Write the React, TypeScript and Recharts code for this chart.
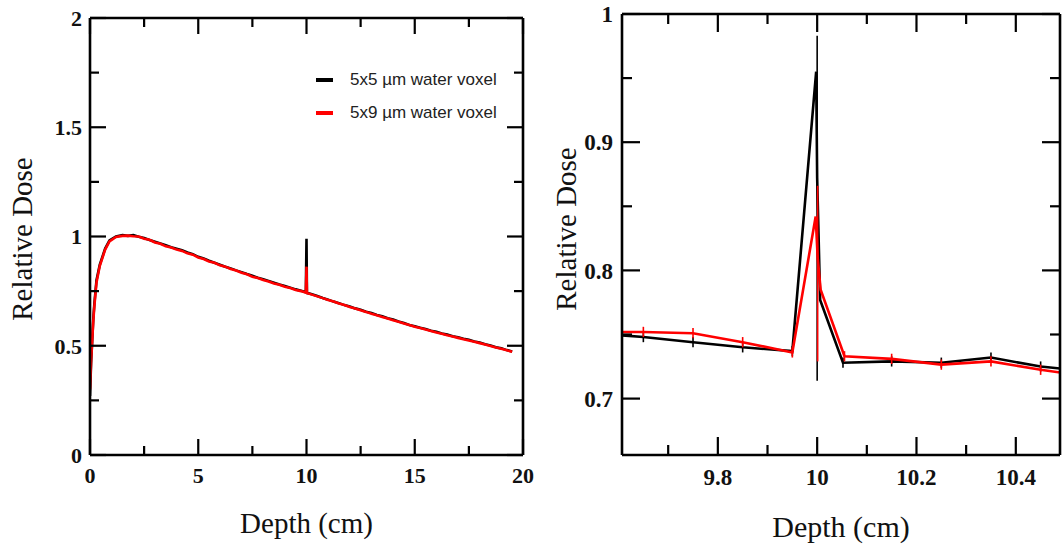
import {
  ErrorBar,
  Label,
  Legend,
  Line,
  LineChart,
  XAxis,
  YAxis,
} from "recharts";

// ---- left panel: full depth-dose curve ----
const depthL = [
  0, 0.05, 0.1, 0.15, 0.2, 0.3, 0.45, 0.7, 0.9, 1.2, 1.5, 1.75, 2.0, 2.25, 2.5, 2.75, 3.0, 3.25, 3.5,
  3.75, 4.0, 4.25, 4.5, 4.75, 5.0, 5.25, 5.5, 5.75, 6.0, 6.25, 6.5, 6.75, 7.0, 7.25, 7.5, 7.75, 8.0,
  8.25, 8.5, 8.75, 9.0, 9.25, 9.5, 9.75, 9.97, 10.0, 10.02, 10.25, 10.5, 10.75, 11.0, 11.25, 11.5,
  11.75, 12.0, 12.25, 12.5, 12.75, 13.0, 13.25, 13.5, 13.75, 14.0, 14.25, 14.5, 14.75, 15.0, 15.25,
  15.5, 15.75, 16.0, 16.25, 16.5, 16.75, 17.0, 17.25, 17.5, 17.75, 18.0, 18.25, 18.5, 18.75, 19.0,
  19.25, 19.5,
];
const dose5x5 = [
  0.27, 0.42, 0.52, 0.62, 0.69, 0.8, 0.87, 0.945, 0.982, 1.0, 1.006, 1.003, 1.006, 0.999, 0.993,
  0.984, 0.976, 0.968, 0.96, 0.951, 0.944, 0.937, 0.927, 0.919, 0.907, 0.899, 0.889, 0.88, 0.871,
  0.862, 0.854, 0.845, 0.837, 0.828, 0.82, 0.811, 0.804, 0.796, 0.788, 0.78, 0.773, 0.766, 0.758,
  0.752, 0.745, 0.99, 0.742, 0.736, 0.728, 0.719, 0.711, 0.702, 0.695, 0.686, 0.68, 0.671, 0.665,
  0.656, 0.65, 0.641, 0.635, 0.626, 0.62, 0.611, 0.604, 0.595, 0.589, 0.582, 0.577, 0.569, 0.564,
  0.556, 0.551, 0.543, 0.539, 0.532, 0.527, 0.519, 0.515, 0.507, 0.501, 0.493, 0.488, 0.48, 0.474,
];
const dose5x9 = [
  0.3, 0.43, 0.52, 0.61, 0.68, 0.79, 0.865, 0.94, 0.978, 0.998, 1.003, 1.004, 1.001, 1.0, 0.99,
  0.985, 0.973, 0.967, 0.955, 0.95, 0.94, 0.934, 0.923, 0.917, 0.904, 0.897, 0.886, 0.88, 0.868,
  0.862, 0.851, 0.844, 0.834, 0.827, 0.816, 0.81, 0.801, 0.794, 0.785, 0.779, 0.77, 0.764, 0.755,
  0.75, 0.743, 0.862, 0.741, 0.734, 0.726, 0.718, 0.709, 0.702, 0.693, 0.686, 0.677, 0.67, 0.662,
  0.655, 0.647, 0.64, 0.632, 0.625, 0.617, 0.61, 0.602, 0.595, 0.587, 0.581, 0.574, 0.568, 0.561,
  0.555, 0.548, 0.542, 0.536, 0.53, 0.524, 0.518, 0.512, 0.506, 0.499, 0.492, 0.486, 0.479, 0.472,
];
const xTicksL = [0, 2.5, 5, 7.5, 10, 12.5, 15, 17.5, 20];
const xMajorL = [0, 5, 10, 15, 20];
const yTicksL = [0, 0.25, 0.5, 0.75, 1, 1.25, 1.5, 1.75, 2];
const yMajorL = [0, 0.5, 1, 1.5, 2];

// ---- right panel: zoom around the 10 cm interface ----
const depthRBlack = [9.55, 9.65, 9.75, 9.85, 9.95, 9.998, 10.0, 10.006, 10.052, 10.15, 10.25, 10.35, 10.45, 10.55];
const doseRBlack = [0.751, 0.748, 0.744, 0.74, 0.737, 0.955, 0.872, 0.777, 0.728, 0.729, 0.728, 0.732, 0.725, 0.721];
const errRBlack: (number | number[])[] = [0, 0.004, 0.004, 0.004, 0.004, 0, [0.158, 0.111], 0, 0.004, 0.004, 0.004, 0.004, 0.004, 0];
const depthRRed = [9.55, 9.65, 9.75, 9.85, 9.95, 9.997, 10.001, 10.007, 10.055, 10.15, 10.25, 10.35, 10.45, 10.55];
const doseRRed = [0.752, 0.752, 0.751, 0.744, 0.736, 0.842, 0.81, 0.785, 0.733, 0.731, 0.7265, 0.729, 0.7225, 0.717];
const errRRed: (number | number[])[] = [0, 0.004, 0.004, 0.004, 0.004, 0, [0.081, 0.056], 0, 0.004, 0.004, 0.004, 0.004, 0.004, 0];
const xTicksR = [9.7, 9.8, 9.9, 10, 10.1, 10.2, 10.3, 10.4];
const xMajorR = [9.8, 10, 10.2, 10.4];
const yTicksR = [0.7, 0.75, 0.8, 0.85, 0.9, 0.95, 1];
const yMajorR = [0.7, 0.8, 0.9, 1];

const leftData = depthL.map((d, i) => ({ depth: d, a: dose5x5[i], b: dose5x9[i] }));
const blackR = depthRBlack.map((d, i) => ({ depth: d, dose: doseRBlack[i], err: errRBlack[i] }));
const redR = depthRRed.map((d, i) => ({ depth: d, dose: doseRRed[i], err: errRRed[i] }));

const serif = "'Liberation Serif', 'Times New Roman', serif";

// inward tick + optional label, for any side
function makeTick(side: string, majors: number[], len: number, fontSize: number, gap: number, showLabel: boolean) {
  return (props: any) => {
    const { x, y, payload } = props;
    const v = payload.value;
    const major = majors.some((m) => Math.abs(m - v) < 1e-9);
    const l = major ? len : Math.round(len * 0.55);
    let x2 = x;
    let y2 = y;
    if (side === "bottom") y2 = y - l;
    if (side === "top") y2 = y + l;
    if (side === "left") x2 = x + l;
    if (side === "right") x2 = x - l;
    const style = { fontFamily: serif, fontWeight: 700, fontSize, fill: "#111" };
    return (
      <g>
        <path d={`M${x},${y}L${x2},${y2}`} stroke="#000" strokeWidth={2.2} fill="none" />
        {showLabel && major && side === "bottom" && (
          <text x={x} y={y + gap} textAnchor="middle" style={style}>
            {v}
          </text>
        )}
        {showLabel && major && side === "left" && (
          <text x={x - gap} y={y} dy="0.36em" textAnchor="end" style={style}>
            {v}
          </text>
        )}
      </g>
    );
  };
}

const frame = { stroke: "#000", strokeWidth: 2.6 };

function yTitle(text: string, cx: number, cy: number) {
  return () => (
    <text
      transform={`translate(${cx},${cy}) rotate(-90)`}
      textAnchor="middle"
      dy="0.33em"
      style={{ fontFamily: serif, fontSize: 29, fill: "#111" }}
    >
      {text}
    </text>
  );
}

function LegendBox(props: any) {
  const { payload } = props;
  return (
    <div style={{ fontFamily: "'Liberation Sans', Arial, sans-serif", fontSize: 17, color: "#222" }}>
      {(payload || [])
        .filter((p: any) => p.type !== "none")
        .map((p: any) => (
          <div key={p.value} style={{ display: "flex", alignItems: "center", height: 33 }}>
            <span style={{ width: 17, height: 4, background: p.color, marginRight: 17, display: "inline-block" }} />
            {p.value}
          </div>
        ))}
    </div>
  );
}

function LeftPanel() {
  const dom = [0, 20];
  const ydom = [0, 2];
  return (
    <LineChart width={540} height={545} data={leftData} margin={{ top: 17, right: 16, bottom: 0, left: 0 }}>
      <XAxis
        dataKey="depth"
        type="number"
        domain={dom}
        allowDataOverflow
        ticks={xTicksL}
        interval={0}
        height={90}
        tickSize={0}
        tickMargin={0}
        tickLine={false}
        axisLine={frame}
        tick={makeTick("bottom", xMajorL, 16, 22, 28, true)}
      >
        <Label value="Depth (cm)" position="insideBottom" offset={12} style={{ fontFamily: serif, fontSize: 29, fill: "#111" }} />
      </XAxis>
      <XAxis xAxisId="top" orientation="top" dataKey="depth" type="number" domain={dom} allowDataOverflow ticks={xTicksL} interval={0} height={1} tickSize={0} tickMargin={0} tickLine={false} axisLine={frame} tick={makeTick("top", xMajorL, 16, 22, 0, false)} />
      <YAxis
        type="number"
        domain={ydom}
        allowDataOverflow
        ticks={yTicksL}
        interval={0}
        width={90}
        tickSize={0}
        tickMargin={0}
        tickLine={false}
        axisLine={frame}
        tick={makeTick("left", yMajorL, 16, 22, 8, true)}
      >
        <Label content={yTitle("Relative Dose", 22, 239)} />
      </YAxis>
      <YAxis yAxisId="right" orientation="right" type="number" domain={ydom} allowDataOverflow ticks={yTicksL} interval={0} width={1} tickSize={0} tickMargin={0} tickLine={false} axisLine={frame} tick={makeTick("right", yMajorL, 16, 22, 0, false)} />
      <Legend
        layout="vertical"
        align="center"
        verticalAlign="middle"
        wrapperStyle={{ left: 316, top: 63, width: 200 }}
        content={<LegendBox />}
      />
      {/* invisible copy so the top / right frame axes get a domain */}
      <Line xAxisId="top" yAxisId="right" dataKey="b" stroke="none" legendType="none" dot={false} activeDot={false} isAnimationActive={false} />
      <Line name="5x5 µm water voxel" dataKey="a" stroke="#000" strokeWidth={2.6} dot={false} activeDot={false} isAnimationActive={false} />
      <Line name="5x9 µm water voxel" dataKey="b" stroke="#ff0000" strokeWidth={2.6} dot={false} activeDot={false} isAnimationActive={false} />
    </LineChart>
  );
}

function RightPanel() {
  const dom = [9.607, 10.489];
  const ydom = [0.656, 1.0];
  return (
    <LineChart width={522} height={545} margin={{ top: 13, right: 1, bottom: 0, left: 0 }}>
      <XAxis
        dataKey="depth"
        type="number"
        domain={dom}
        allowDataOverflow
        ticks={xTicksR}
        interval={0}
        height={90}
        tickSize={0}
        tickMargin={0}
        tickLine={false}
        axisLine={frame}
        tick={makeTick("bottom", xMajorR, 18, 23, 30, true)}
      >
        <Label value="Depth (cm)" position="insideBottom" offset={8} style={{ fontFamily: serif, fontSize: 30, fill: "#111" }} />
      </XAxis>
      <XAxis xAxisId="top" orientation="top" dataKey="depth" type="number" domain={dom} allowDataOverflow ticks={xTicksR} interval={0} height={1} tickSize={0} tickMargin={0} tickLine={false} axisLine={frame} tick={makeTick("top", xMajorR, 18, 23, 0, false)} />
      <YAxis
        type="number"
        domain={ydom}
        allowDataOverflow
        ticks={yTicksR}
        interval={0}
        width={82}
        tickSize={0}
        tickMargin={0}
        tickLine={false}
        axisLine={frame}
        tick={makeTick("left", yMajorR, 18, 23, 9, true)}
      >
        <Label content={yTitle("Relative Dose", 26, 229)} />
      </YAxis>
      <YAxis yAxisId="right" orientation="right" type="number" domain={ydom} allowDataOverflow ticks={yTicksR} interval={0} width={1} tickSize={0} tickMargin={0} tickLine={false} axisLine={frame} tick={makeTick("right", yMajorR, 18, 23, 0, false)} />
      {/* invisible copy so the top / right frame axes get a domain */}
      <Line data={redR} xAxisId="top" yAxisId="right" dataKey="dose" stroke="none" legendType="none" dot={false} activeDot={false} isAnimationActive={false} />
      <Line data={blackR} dataKey="dose" stroke="#000" strokeWidth={2.6} dot={false} activeDot={false} isAnimationActive={false}>
        <ErrorBar dataKey="err" direction="y" width={0} stroke="#000" strokeWidth={1.6} isAnimationActive={false} />
      </Line>
      <Line data={redR} dataKey="dose" stroke="#ff0000" strokeWidth={2.6} dot={false} activeDot={false} isAnimationActive={false}>
        <ErrorBar dataKey="err" direction="y" width={0} stroke="#ff0000" strokeWidth={1.6} isAnimationActive={false} />
      </Line>
    </LineChart>
  );
}

export default function App() {
  return (
    <div style={{ position: "absolute", left: 0, top: 0, width: 1062, height: 545, background: "#fff", overflow: "hidden" }}>
      <div style={{ position: "absolute", left: 0, top: 0 }}>
        <LeftPanel />
      </div>
      <div style={{ position: "absolute", left: 540, top: 0 }}>
        <RightPanel />
      </div>
    </div>
  );
}
